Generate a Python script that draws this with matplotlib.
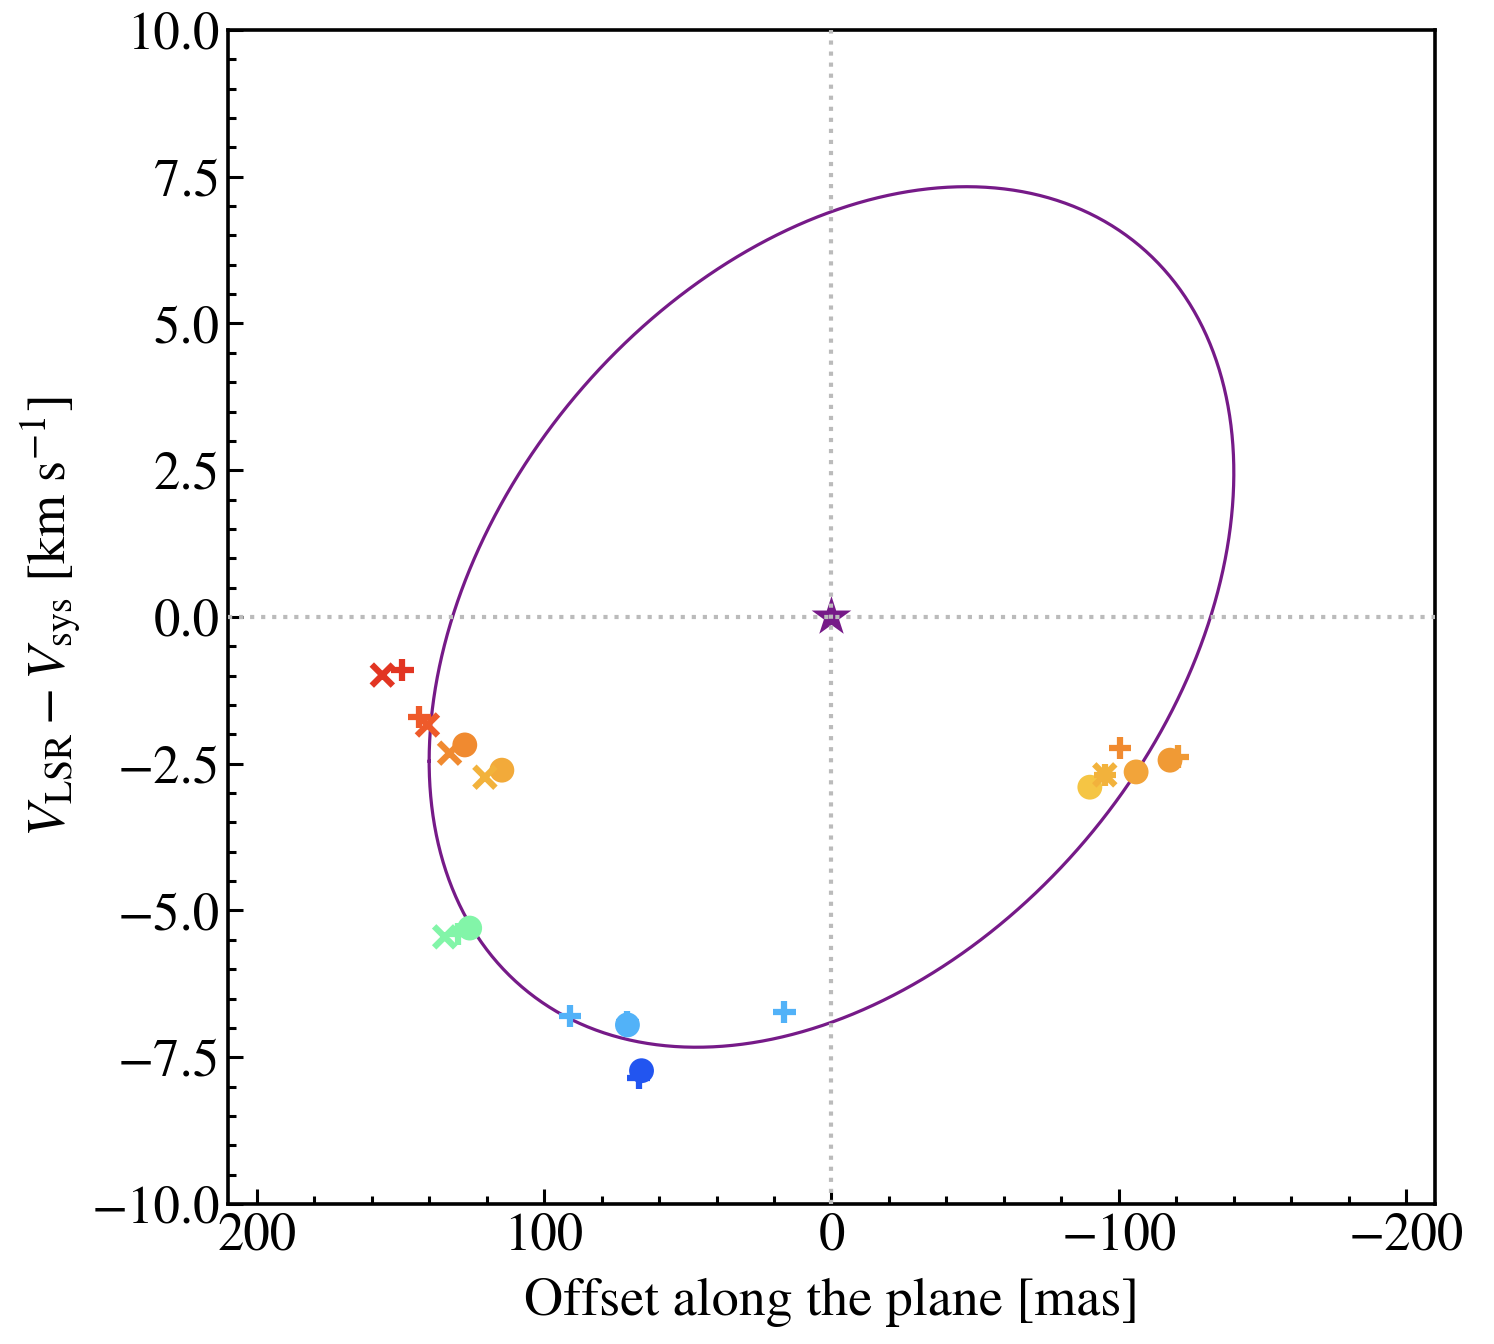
import numpy as np
import matplotlib
matplotlib.use("Agg")
import matplotlib.pyplot as plt
from matplotlib.ticker import FuncFormatter

plt.rcParams['font.family'] = ['STIXGeneral', 'DejaVu Serif']
plt.rcParams['mathtext.fontset'] = 'stix'

## ring model (position-velocity ellipse)
ring_r = 140.0        # mas
ring_v = 7.33         # km/s
ring_phase = 109.6    # deg

## maser spots
circ_x = [127.6, 114.7, -89.9, -106.0, -117.8, 125.9, 71.0, 66.1]
circ_y = [-2.18, -2.61, -2.90, -2.64, -2.44, -5.30, -6.95, -7.73]
circ_c = ['#f08a30', '#f2aa3a', '#f5c544', '#f2a43a', '#f09a35', '#82f5a8', '#52b2f8', '#2255f0']

plus_x = [149.3, 143.4, -100.3, -95.1, -120.6, 130.0, 90.9, 71.0, 16.4, 67.1]
plus_y = [-0.90, -1.70, -2.23, -2.69, -2.38, -5.40, -6.80, -6.90, -6.73, -7.85]
plus_c = ['#e23522', '#ee5a2a', '#f08a30', '#f2b23c', '#f09a35', '#82f5a8', '#52b2f8', '#52b2f8', '#52b2f8', '#2255f0']

cross_x = [156.3, 140.6, 132.9, 120.6, -95.1, 134.6]
cross_y = [-0.99, -1.84, -2.32, -2.73, -2.69, -5.45]
cross_c = ['#e23522', '#ee5a2a', '#f08a30', '#f2b23c', '#f2b23c', '#82f5a8']

star_x = [0.0]
star_y = [0.0]

fig = plt.figure(figsize=(14.94, 13.44), dpi=100)
ax = fig.add_axes([0.1526, 0.1042, 0.8079, 0.8735])

## ellipse
t = np.linspace(0, 2*np.pi, 500)
ax.plot(ring_r*np.cos(t), ring_v*np.cos(t - np.radians(ring_phase)),
        color='#761a88', lw=2.3, zorder=2)

## zero lines
ax.axvline(0, ls=':', color='#bbbbbb', lw=3, zorder=4)
ax.axhline(0, ls=':', color='#bbbbbb', lw=3, zorder=4)

## points
ax.scatter(circ_x, circ_y, s=320, c=circ_c, marker='o', edgecolors='none', zorder=3)
ax.scatter(plus_x, plus_y, s=260, c=plus_c, marker='+', linewidths=4.5, zorder=3)
ax.scatter(cross_x, cross_y, s=230, c=cross_c, marker='x', linewidths=4.5, zorder=3)
ax.scatter(star_x, star_y, s=900, c='#761a88', marker='*', edgecolors='none', zorder=3)

## ax settings
ax.set_xlim(210, -210)
ax.set_ylim(-10, 10)
ax.set_xticks([200, 100, 0, -100, -200])
ax.set_xticks(np.arange(-200, 201, 20), minor=True)
ax.set_yticks(np.arange(-10, 10.1, 2.5))
ax.set_yticks(np.arange(-10, 10.1, 0.5), minor=True)
ax.xaxis.set_major_formatter(FuncFormatter(lambda v, p: ('%d' % v).replace('-', '\u2212')))
ax.yaxis.set_major_formatter(FuncFormatter(lambda v, p: ('%.1f' % v).replace('-', '\u2212')))
ax.tick_params(which='both', direction='in', top=False, right=False, labelsize=38, width=2.2)
ax.tick_params(which='major', length=11, pad=6)
ax.tick_params(which='minor', length=6)
for sp in ax.spines.values():
    sp.set_linewidth(2.6)

ax.set_xlabel('Offset along the plane [mas]', fontsize=39, labelpad=12)
ax.set_ylabel(r'$V_{\rm LSR} - V_{\rm sys}$ [km s$^{-1}$]', fontsize=39, labelpad=6)

fig.savefig('out.png', dpi=100)
